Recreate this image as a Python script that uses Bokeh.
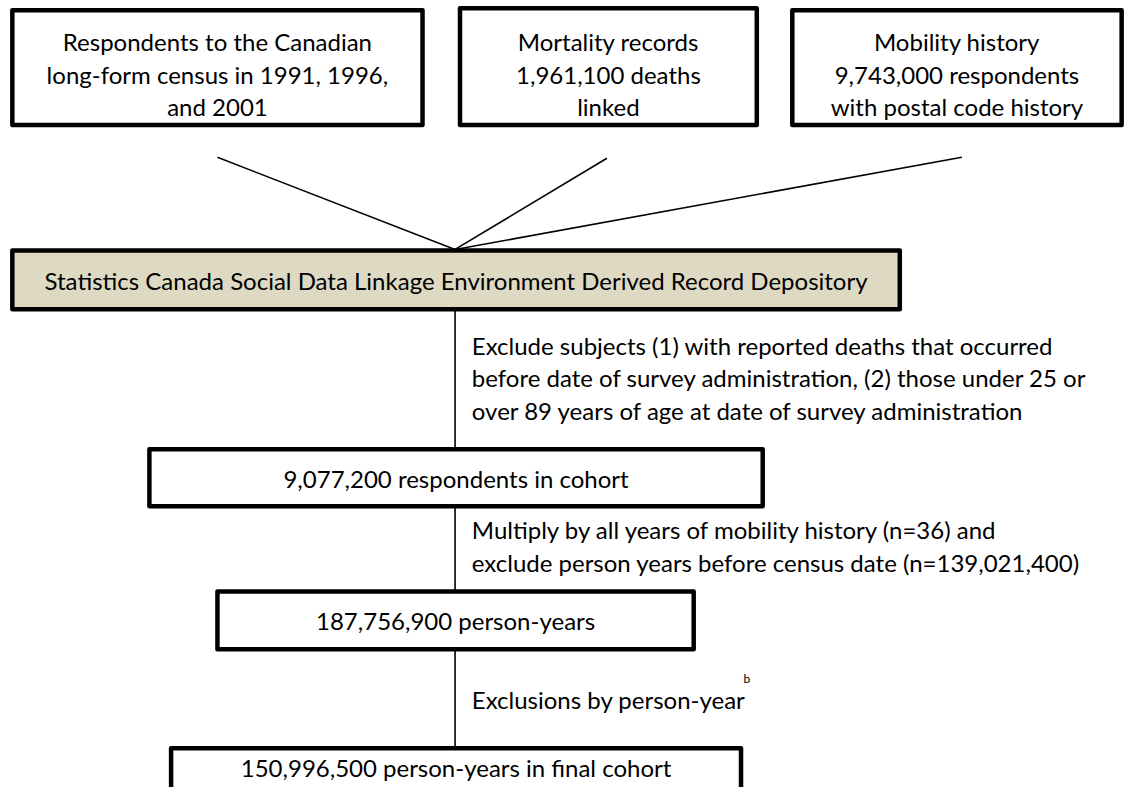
from bokeh.plotting import figure
from bokeh.models import Range1d
from bokeh.core.properties import value
from bokeh.embed import file_html
from bokeh.resources import INLINE

# ---- content ----
source_labels = [
    ["Respondents to the Canadian", "long-form census in 1991, 1996,", "and 2001"],
    ["Mortality records", "1,961,100 deaths", "linked"],
    ["Mobility history", "9,743,000 respondents", "with postal code history"],
]
stage_labels = [
    "Statistics Canada Social Data Linkage Environment Derived Record Depository",
    "9,077,200 respondents in cohort",
    "187,756,900 person-years",
    "150,996,500 person-years in final cohort",
]
step_notes = [
    ["Exclude subjects (1) with reported deaths that occurred",
     "before date of survey administration, (2) those under 25 or",
     "over 89 years of age at date of survey administration"],
    ["Multiply by all years of mobility history (n=36) and",
     "exclude person years before census date (n=139,021,400)"],
    ["Exclusions by person-year"],
]
footnote_mark = "b"

# ---- layout (reference pixel coordinates) ----
src_left = [12, 466, 803]
src_right = [428, 767, 1137]
src_top = [10, 8, 10]
src_bottom = [127, 127, 127]
src_text_y0 = 42
line_gap = 33

stage_left = [12, 151, 220, 173]
stage_right = [912, 773, 703, 751]
stage_top = [255, 458, 603, 763]
stage_bottom = [315, 516, 662, 840]
stage_fill = ["#DDD9C3", "white", "white", "white"]
stage_text_y = [286, 488, 633, 783]

join_x, join_y = 461, 254
src_line_start_y = [160, 161, 160]
src_line_start_x = [220, 615, 975]

note_x = 478
note_y0 = [352, 540, 713]

FONT = "Lato"
FS = "24px"

p = figure(width=1131, height=787, x_range=Range1d(0, 1147), y_range=Range1d(803, 0),
           output_backend="svg", toolbar_location=None, min_border=0)
p.axis.visible = False
p.grid.visible = False
p.outline_line_color = None
p.background_fill_color = "white"

# connector lines from sources to depository
for sx, sy in zip(src_line_start_x, src_line_start_y):
    p.line([sx, join_x], [sy, join_y], line_color="black", line_width=1.6)

# vertical spine
p.line([join_x, join_x], [stage_bottom[0], stage_top[3]], line_color="black", line_width=1.6)

# source boxes
p.quad(left=src_left, right=src_right, top=src_top, bottom=src_bottom,
       fill_color="white", line_color="black", line_width=4.5, line_join="round")

# stage boxes
p.quad(left=stage_left, right=stage_right, top=stage_top, bottom=stage_bottom,
       fill_color=stage_fill, line_color="black", line_width=4.5, line_join="round")

# source box texts
xs, ys, ts = [], [], []
for i, lines in enumerate(source_labels):
    cx = (src_left[i] + src_right[i]) / 2
    for j, t in enumerate(lines):
        xs.append(cx); ys.append(src_text_y0 + j * line_gap); ts.append(t)
p.text(x=xs, y=ys, text=ts, text_align="center", text_baseline="middle",
       text_font=value(FONT), text_font_size=FS, text_color="black")

# stage texts
cxs = [(l + r) / 2 for l, r in zip(stage_left, stage_right)]
p.text(x=cxs, y=stage_text_y, text=stage_labels, text_align="center", text_baseline="middle",
       text_font=value(FONT), text_font_size=FS, text_color="black")

# step notes
xs, ys, ts = [], [], []
for k, lines in enumerate(step_notes):
    for j, t in enumerate(lines):
        xs.append(note_x); ys.append(note_y0[k] + j * line_gap); ts.append(t)
p.text(x=xs, y=ys, text=ts, text_align="left", text_baseline="middle",
       text_font=value(FONT), text_font_size=FS, text_color="black")

# footnote mark
p.text(x=[757], y=[692], text=[footnote_mark], text_align="center", text_baseline="middle",
       text_font=value(FONT), text_font_size="12px", text_color="black")

open("out.html", "w").write(file_html(p, INLINE))
